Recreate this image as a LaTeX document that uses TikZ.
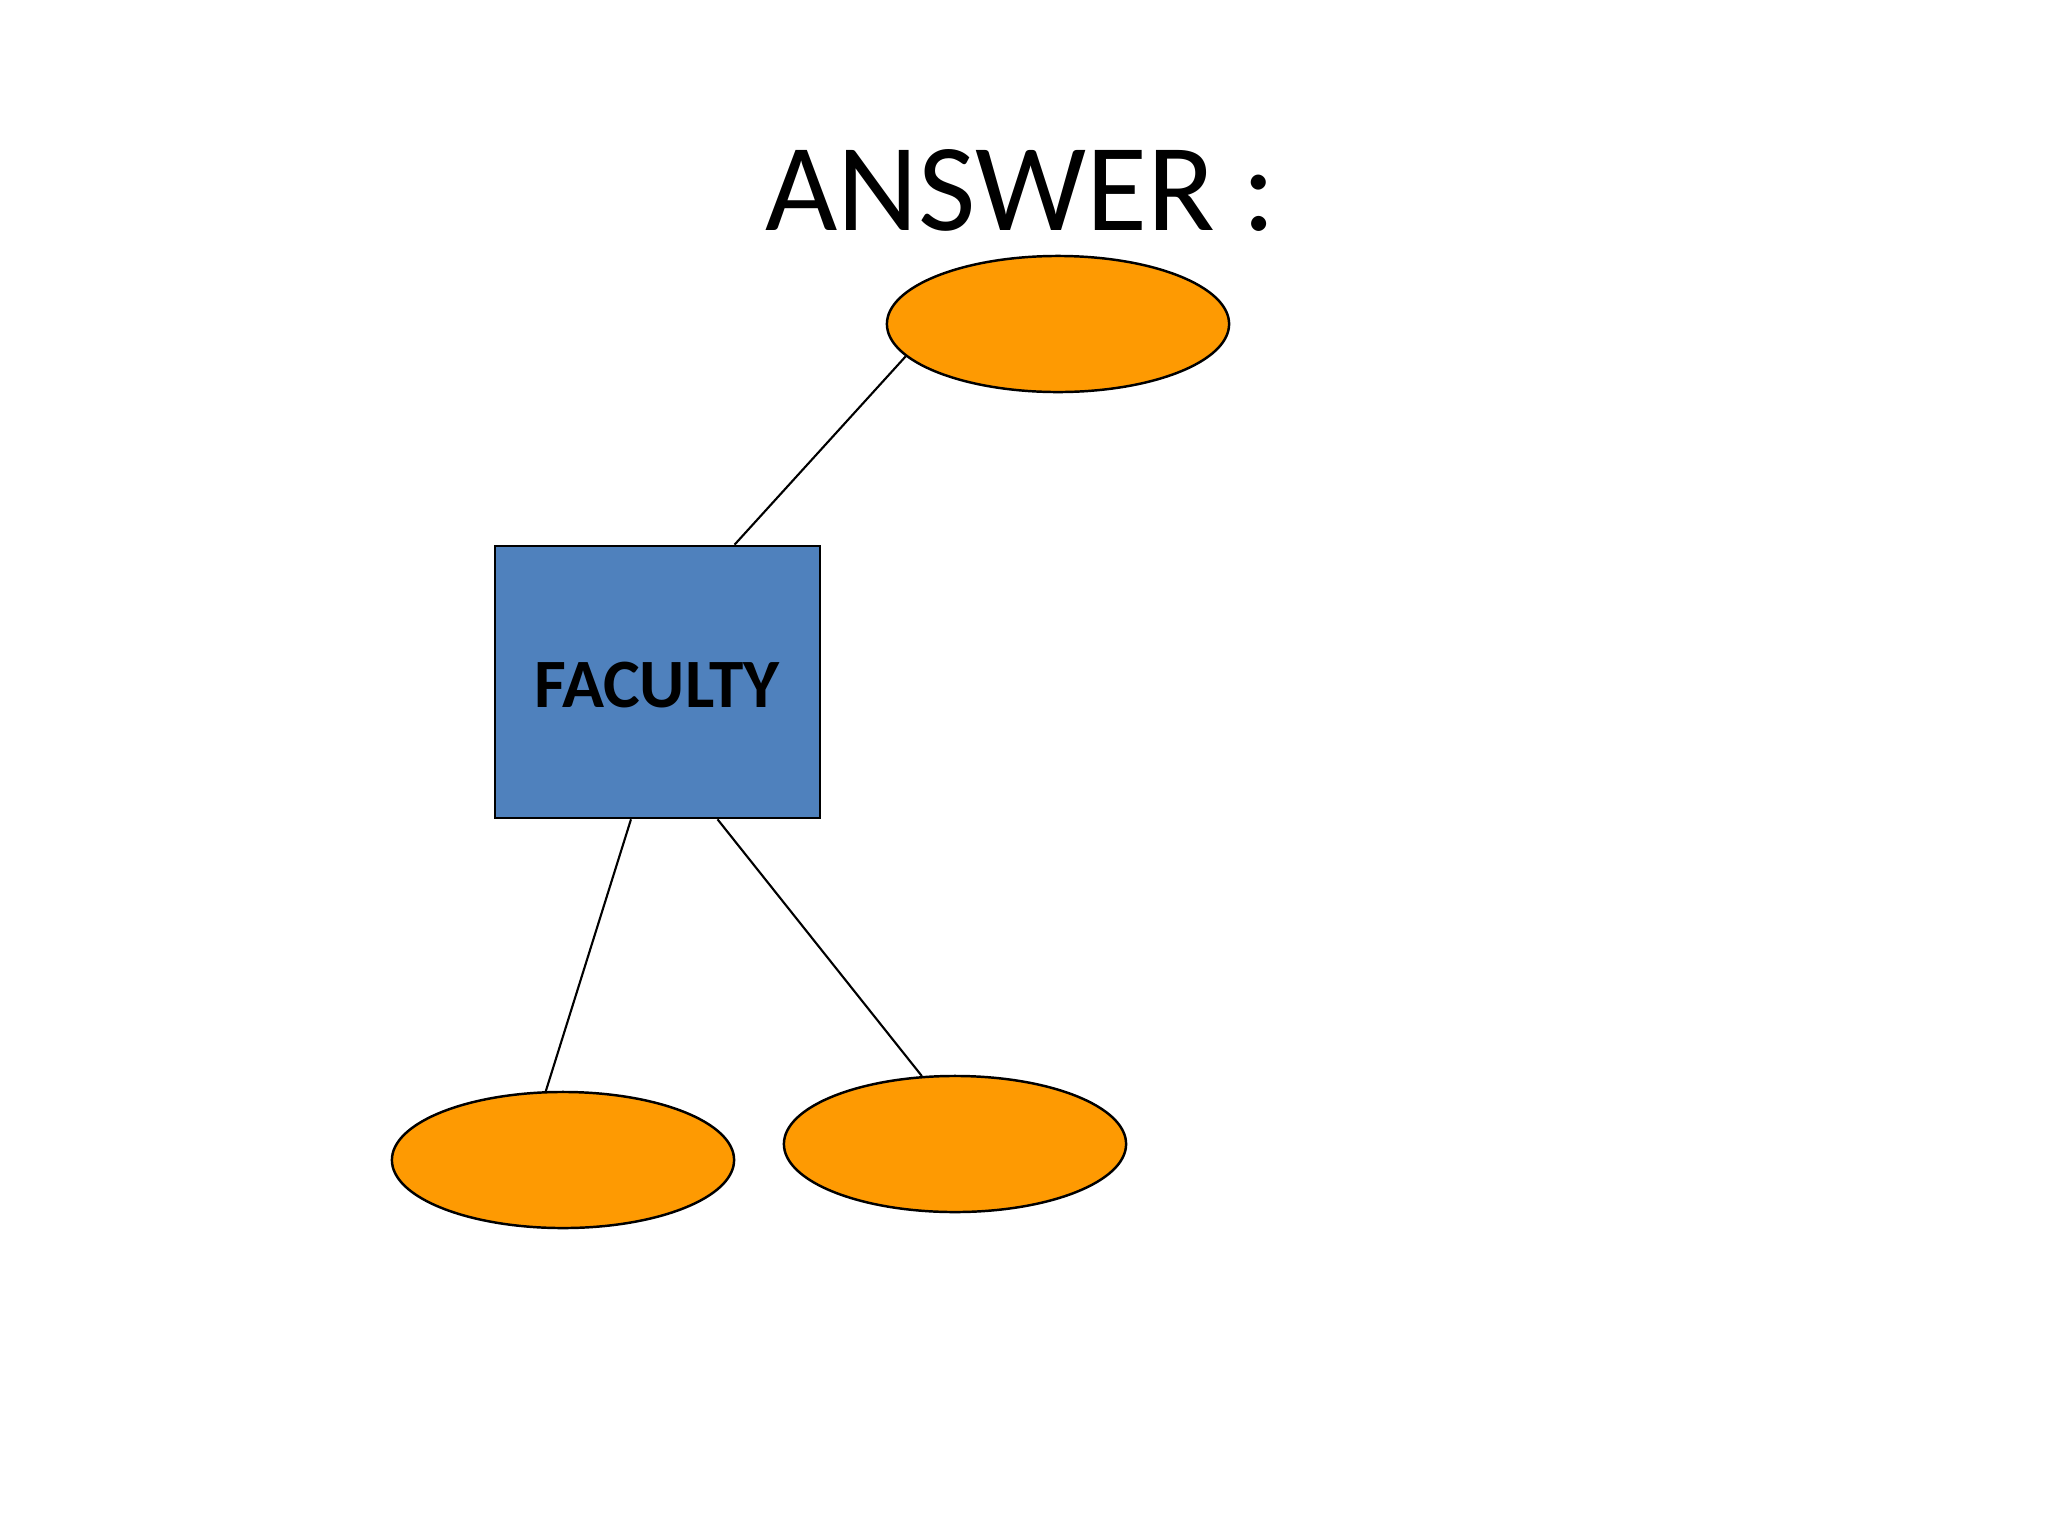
\documentclass[tikz,border=0pt]{standalone}
\usepackage{fontspec}
\setmainfont{Carlito}
\usetikzlibrary{shapes.geometric}
\definecolor{attrorange}{HTML}{FE9A02}
\definecolor{entblue}{HTML}{4F81BD}
\begin{document}
\begin{tikzpicture}[x=0.01cm,y=-0.01cm,
  attr/.style={ellipse,draw=black,line width=0.7pt,fill=attrorange,minimum width=3.42cm,minimum height=1.36cm,inner sep=0pt},
  entity/.style={rectangle,draw=black,line width=0.7pt,fill=entblue,minimum width=3.25cm,minimum height=2.72cm,inner sep=0pt},
  link/.style={draw=black,line width=0.6pt}]
\useasboundingbox (0,0) rectangle (2048,1536);
\fill[white] (0,0) rectangle (2048,1536);
\node[anchor=base,inner sep=0pt,font=\fontsize{35.5pt}{42pt}\selectfont] (title) at (1021,230) {ANSWER :};
\node[entity] (fac) at (657.5,682) {};
\node[anchor=base,inner sep=0pt,font=\fontsize{19.7pt}{24pt}\selectfont\bfseries] (factext) at (657,707) {FACULTY};
\node[attr] (top) at (1058,324) {};
\node[attr] (bl) at (563,1160) {};
\node[attr] (br) at (955,1144) {};
\coordinate (f1) at ([xshift=0.77cm]fac.north);
\coordinate (f2) at ([xshift=-0.265cm]fac.south);
\coordinate (f3) at ([xshift=0.60cm]fac.south);
\draw[link] (f1) -- (top.192);
\draw[link] (f2) -- (bl.104);
\draw[link] (f3) -- (br.116);
\end{tikzpicture}
\end{document}
